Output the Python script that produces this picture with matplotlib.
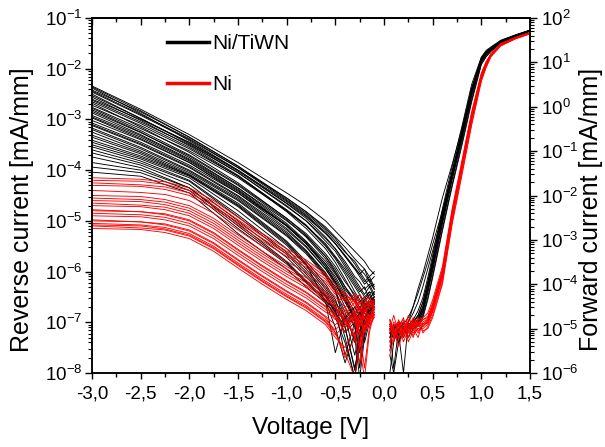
import numpy as np
import matplotlib
matplotlib.use("Agg")
import matplotlib.pyplot as plt
from matplotlib.ticker import MultipleLocator, FuncFormatter, LogLocator, LogFormatterMathtext, NullFormatter
from matplotlib.lines import Line2D

plt.rcParams['font.family'] = ['Liberation Sans', 'DejaVu Sans']
plt.rcParams['mathtext.fontset'] = 'custom'
plt.rcParams['mathtext.rm'] = 'Liberation Sans'
plt.rcParams['mathtext.it'] = 'Liberation Sans:italic'
plt.rcParams['axes.unicode_minus'] = False

# ---------------- data (log10 of current, mA/mm) ----------------
V_rev = [-3.0, -2.5, -2.0, -1.5, -1.0, -0.8, -0.6, -0.5, -0.4, -0.3, -0.25, -0.2, -0.15, -0.1]

rev_black = [
    [-2.34, -2.80, -3.30, -3.85, -4.45, -4.70, -5.00, -5.20, -5.40, -5.60, -5.70, -5.80, -5.95, -6.05],
    [-2.36, -2.83, -3.35, -3.92, -4.55, -4.82, -5.12, -5.32, -5.52, -5.75, -5.85, -5.95, -6.10, -6.00],
    [-2.38, -2.88, -3.42, -4.00, -4.65, -4.92, -5.25, -5.45, -5.70, -5.95, -6.05, -6.20, -6.10, -6.30],
    [-2.42, -2.85, -3.35, -3.92, -4.58, -4.85, -5.18, -5.40, -5.62, -5.80, -5.95, -6.05, -6.20, -6.10],
    [-2.44, -2.90, -3.38, -3.95, -4.60, -4.88, -5.22, -5.45, -5.68, -5.92, -6.05, -5.95, -6.20, -6.35],
    [-2.46, -2.92, -3.40, -3.95, -4.55, -4.82, -5.15, -5.35, -5.60, -5.85, -6.00, -6.15, -6.30, -6.25],
    [-2.50, -2.98, -3.48, -4.05, -4.72, -5.00, -5.35, -5.55, -5.80, -6.10, -6.20, -6.35, -6.25, -6.45],
    [-2.53, -2.98, -3.46, -4.02, -4.66, -4.95, -5.32, -5.55, -5.85, -6.15, -6.30, -6.45, -6.30, -6.50],
    [-2.56, -3.02, -3.52, -4.10, -4.80, -5.10, -5.45, -5.70, -5.95, -6.25, -6.40, -6.30, -6.55, -6.40],
    [-2.60, -3.00, -3.45, -4.00, -4.62, -4.90, -5.25, -5.45, -5.70, -5.95, -6.10, -6.25, -6.15, -6.35],
    [-2.62, -3.05, -3.50, -4.05, -4.70, -5.00, -5.40, -5.60, -5.90, -6.20, -6.35, -6.50, -6.40, -6.60],
    [-2.65, -3.08, -3.55, -4.12, -4.82, -5.15, -5.55, -5.82, -6.15, -6.50, -6.75, -6.55, -6.40, -6.45],
    [-2.68, -3.15, -3.65, -4.25, -4.95, -5.25, -5.65, -5.90, -6.20, -6.45, -6.60, -6.50, -6.70, -6.55],
    [-2.72, -3.12, -3.58, -4.12, -4.78, -5.08, -5.48, -5.72, -6.00, -6.30, -6.45, -6.60, -6.45, -6.65],
    [-2.76, -3.18, -3.62, -4.15, -4.80, -5.10, -5.50, -5.75, -6.05, -6.40, -6.55, -6.75, -6.60, -6.50],
    [-2.78, -3.22, -3.70, -4.28, -4.95, -5.28, -5.70, -6.00, -6.40, -7.00, -7.90, -7.20, -6.85, -6.70],
    [-2.81, -3.25, -3.75, -4.35, -5.05, -5.40, -5.80, -6.05, -6.35, -6.60, -6.80, -6.65, -6.90, -6.70],
    [-2.84, -3.26, -3.72, -4.30, -4.98, -5.32, -5.75, -6.02, -6.30, -6.60, -6.45, -6.70, -6.55, -6.40],
    [-2.87, -3.30, -3.78, -4.35, -5.00, -5.30, -5.70, -5.95, -6.30, -6.55, -6.70, -6.60, -6.85, -6.60],
    [-2.92, -3.32, -3.80, -4.38, -5.08, -5.42, -5.85, -6.15, -6.50, -7.00, -7.60, -7.10, -6.80, -6.65],
    [-2.95, -3.35, -3.82, -4.40, -5.10, -5.45, -5.90, -6.20, -6.55, -6.95, -7.30, -6.95, -6.75, -6.60],
    [-2.97, -3.38, -3.85, -4.45, -5.15, -5.50, -5.95, -6.25, -6.60, -6.90, -7.20, -7.00, -6.80, -6.75],
    [-3.02, -3.40, -3.85, -4.42, -5.10, -5.45, -5.90, -6.20, -6.55, -6.85, -6.70, -6.95, -6.75, -6.60],
    [-3.07, -3.45, -3.90, -4.45, -5.10, -5.45, -5.85, -6.10, -6.45, -6.80, -7.00, -7.40, -7.00, -6.70],
    [-3.10, -3.48, -3.93, -4.50, -5.18, -5.52, -5.95, -6.22, -6.60, -6.95, -6.80, -7.05, -6.85, -6.70],
    [-3.12, -3.50, -3.95, -4.52, -5.22, -5.58, -6.02, -6.35, -7.10, -7.95, -7.30, -6.95, -6.75, -6.60],
    [-3.17, -3.55, -4.00, -4.55, -5.25, -5.60, -6.05, -6.30, -6.70, -7.10, -7.60, -7.20, -6.90, -6.60],
    [-3.20, -3.58, -4.02, -4.58, -5.28, -5.62, -6.08, -6.38, -6.80, -7.40, -7.00, -6.80, -6.70, -6.55],
    [-3.25, -3.62, -4.05, -4.60, -5.30, -5.65, -6.10, -6.40, -6.90, -7.65, -7.20, -6.90, -6.80, -6.55],
    [-3.31, -3.65, -4.08, -4.65, -5.40, -5.80, -6.25, -6.55, -7.10, -7.90, -7.40, -7.00, -6.85, -6.60],
    [-3.35, -3.68, -4.10, -4.68, -5.42, -5.85, -6.60, -7.60, -6.90, -6.70, -6.85, -6.65, -6.80, -6.55],
    [-3.41, -3.72, -4.10, -4.70, -5.45, -5.85, -6.30, -6.60, -6.90, -7.30, -8.10, -7.30, -6.90, -6.70],
    [-3.45, -3.75, -4.12, -4.72, -5.48, -5.88, -6.35, -6.65, -7.30, -8.10, -7.30, -6.95, -6.80, -6.65],
    [-3.50, -3.78, -4.15, -4.80, -5.55, -5.95, -6.40, -6.70, -7.00, -6.80, -6.95, -6.70, -6.85, -6.60],
    [-3.54, -3.82, -4.20, -4.88, -5.62, -6.00, -6.45, -6.75, -7.65, -7.00, -6.85, -6.70, -6.60, -6.55],
    [-3.60, -3.86, -4.22, -4.92, -5.66, -6.05, -6.48, -6.80, -7.10, -6.90, -7.05, -6.80, -6.70, -6.60],
    [-3.66, -3.90, -4.28, -5.00, -5.72, -6.10, -6.50, -6.82, -7.20, -7.00, -6.80, -6.90, -6.65, -6.50],
    [-3.74, -3.95, -4.35, -5.05, -5.80, -6.18, -6.55, -6.90, -7.40, -8.10, -7.40, -6.90, -6.70, -6.60],
    [-3.85, -4.00, -4.35, -5.10, -5.82, -6.20, -6.60, -7.10, -7.80, -7.20, -6.90, -6.75, -6.85, -6.60],
    [-3.94, -4.05, -4.40, -5.15, -5.85, -6.22, -6.58, -6.75, -6.95, -6.70, -6.90, -6.60, -6.75, -6.55],
    [-4.04, -4.12, -4.45, -5.25, -5.95, -6.30, -6.62, -6.85, -7.05, -6.80, -7.20, -6.70, -6.85, -6.60],
]

V_rev_red = [-3.0, -2.5, -2.25, -2.0, -1.75, -1.5, -1.25, -1.0, -0.8, -0.6, -0.5, -0.4, -0.3, -0.25, -0.2, -0.15, -0.1]

rev_red = [
    [-4.15, -4.18, -4.23, -4.35, -4.60, -4.93, -5.25, -5.55, -5.77, -6.05, -6.25, -6.45, -6.60, -6.45, -6.70, -6.55, -6.60],
    [-4.20, -4.22, -4.28, -4.40, -4.65, -4.98, -5.30, -5.60, -5.82, -6.10, -6.35, -6.60, -6.50, -6.75, -6.60, -6.50, -6.70],
    [-4.25, -4.29, -4.33, -4.45, -4.70, -5.03, -5.35, -5.65, -5.87, -6.15, -6.40, -6.55, -6.45, -6.65, -6.50, -6.75, -6.60],
    [-4.30, -4.32, -4.38, -4.50, -4.75, -5.08, -5.40, -5.70, -5.92, -6.20, -6.45, -6.40, -6.70, -6.60, -6.80, -6.65, -6.55],
    [-4.40, -4.44, -4.48, -4.60, -4.85, -5.18, -5.50, -5.80, -6.02, -6.30, -6.50, -6.70, -6.55, -6.80, -6.65, -7.00, -6.60],
    [-4.50, -4.52, -4.58, -4.70, -4.95, -5.28, -5.60, -5.90, -6.12, -6.40, -6.60, -6.50, -6.85, -6.70, -6.95, -6.60, -6.70],
    [-4.55, -4.58, -4.63, -4.75, -5.00, -5.33, -5.65, -5.95, -6.17, -6.45, -6.65, -6.85, -6.60, -6.90, -6.70, -6.60, -6.75],
    [-4.60, -4.62, -4.68, -4.80, -5.05, -5.38, -5.70, -6.00, -6.22, -6.50, -6.72, -7.00, -6.75, -7.10, -6.80, -6.70, -6.65],
    [-4.65, -4.69, -4.73, -4.85, -5.10, -5.43, -5.75, -6.05, -6.27, -6.55, -6.70, -6.95, -7.30, -7.80, -7.10, -6.80, -6.75],
    [-4.70, -4.72, -4.78, -4.90, -5.15, -5.48, -5.80, -6.10, -6.32, -6.60, -6.82, -6.70, -7.00, -6.85, -7.20, -6.90, -6.70],
    [-4.78, -4.82, -4.86, -4.98, -5.23, -5.56, -5.88, -6.18, -6.40, -6.68, -6.90, -7.20, -6.90, -7.50, -8.10, -7.20, -6.80],
    [-4.80, -4.82, -4.88, -5.00, -5.25, -5.58, -5.90, -6.20, -6.42, -6.70, -6.85, -7.10, -6.80, -7.00, -6.75, -6.90, -6.70],
    [-4.85, -4.88, -4.93, -5.05, -5.30, -5.63, -5.95, -6.25, -6.47, -6.75, -6.95, -6.75, -7.05, -6.90, -7.15, -6.95, -6.75],
    [-4.90, -4.92, -4.98, -5.10, -5.35, -5.68, -6.00, -6.30, -6.52, -6.80, -6.90, -7.10, -6.85, -7.25, -7.00, -6.85, -6.90],
    [-4.98, -5.02, -5.06, -5.18, -5.43, -5.76, -6.08, -6.38, -6.60, -6.88, -7.05, -6.85, -7.30, -7.00, -6.80, -7.05, -6.85],
    [-5.00, -5.02, -5.08, -5.20, -5.45, -5.78, -6.10, -6.40, -6.62, -6.90, -7.20, -7.60, -8.10, -7.40, -7.00, -6.90, -6.80],
    [-5.05, -5.08, -5.13, -5.25, -5.50, -5.83, -6.15, -6.45, -6.67, -6.95, -7.15, -6.95, -7.25, -7.50, -7.10, -6.95, -6.85],
    [-5.08, -5.10, -5.16, -5.28, -5.53, -5.86, -6.18, -6.48, -6.70, -6.98, -7.20, -7.70, -7.30, -7.05, -6.90, -7.10, -6.85],
    [-5.10, -5.14, -5.18, -5.30, -5.55, -5.88, -6.20, -6.50, -6.72, -7.00, -7.25, -7.05, -6.90, -7.20, -7.90, -7.10, -6.90],
    [-5.15, -5.17, -5.23, -5.35, -5.60, -5.93, -6.25, -6.55, -6.77, -7.05, -7.30, -7.50, -7.10, -6.95, -7.20, -7.00, -6.80],
]

V_fwd = [0.06, 0.1, 0.15, 0.2, 0.25, 0.3, 0.35, 0.4, 0.45, 0.5, 0.6, 0.7, 0.8, 0.9, 1.0, 1.05, 1.1, 1.2, 1.35, 1.5]

fwd_black = [
    [-4.90, -5.20, -5.00, -4.90, -4.95, -4.80, -4.60, -4.30, -3.85, -3.35, -2.30, -1.35, -0.45, 0.50, 1.12, 1.27, 1.35, 1.50, 1.62, 1.73],
    [-5.10, -5.00, -5.15, -5.00, -4.90, -4.85, -4.70, -4.40, -3.95, -3.45, -2.40, -1.45, -0.55, 0.40, 1.08, 1.23, 1.32, 1.48, 1.61, 1.72],
    [-5.30, -5.00, -4.90, -5.10, -5.00, -4.95, -4.80, -4.50, -4.05, -3.55, -2.50, -1.52, -0.62, 0.35, 1.06, 1.22, 1.31, 1.47, 1.60, 1.72],
    [-4.80, -5.10, -5.20, -4.95, -5.05, -4.90, -4.85, -4.60, -4.15, -3.65, -2.60, -1.60, -0.70, 0.28, 1.03, 1.19, 1.29, 1.46, 1.60, 1.71],
    [-5.00, -5.90, -5.00, -5.20, -4.95, -5.00, -4.90, -4.65, -4.20, -3.70, -2.65, -1.65, -0.75, 0.22, 1.00, 1.17, 1.28, 1.45, 1.59, 1.71],
    [-5.50, -5.00, -4.85, -5.00, -5.10, -4.95, -4.90, -4.70, -4.30, -3.80, -2.75, -1.75, -0.82, 0.15, 0.97, 1.14, 1.26, 1.44, 1.58, 1.70],
    [-5.10, -5.20, -5.05, -4.85, -5.00, -4.80, -4.75, -4.50, -4.00, -3.50, -2.45, -1.50, -0.60, 0.36, 1.07, 1.22, 1.31, 1.48, 1.61, 1.72],
    [-4.95, -5.05, -5.30, -5.10, -4.90, -4.85, -4.80, -4.55, -4.10, -3.58, -2.52, -1.55, -0.65, 0.32, 1.05, 1.21, 1.30, 1.47, 1.60, 1.72],
    [-6.00, -5.30, -5.00, -4.95, -5.00, -4.90, -4.82, -4.60, -4.12, -3.62, -2.58, -1.60, -0.68, 0.29, 1.04, 1.20, 1.30, 1.46, 1.60, 1.71],
    [-5.20, -4.90, -5.10, -5.00, -5.20, -5.00, -4.95, -4.75, -4.35, -3.85, -2.80, -1.80, -0.88, 0.10, 0.95, 1.13, 1.25, 1.43, 1.58, 1.70],
    [-5.00, -5.10, -4.90, -4.95, -4.85, -4.50, -4.10, -3.75, -3.35, -2.95, -2.05, -1.30, -0.50, 0.42, 1.10, 1.25, 1.33, 1.48, 1.61, 1.72],
    [-5.20, -5.00, -4.85, -4.90, -4.75, -4.50, -4.20, -3.85, -3.50, -3.10, -2.35, -1.48, -0.60, 0.38, 1.08, 1.23, 1.32, 1.48, 1.61, 1.72],
    [-4.90, -5.05, -5.10, -6.00, -4.85, -4.65, -4.40, -4.05, -3.65, -3.25, -2.45, -1.50, -0.62, 0.36, 1.07, 1.22, 1.31, 1.47, 1.60, 1.72],
    [-5.60, -6.00, -5.30, -5.00, -4.90, -4.85, -4.70, -4.40, -3.95, -3.45, -2.42, -1.48, -0.58, 0.38, 1.08, 1.23, 1.32, 1.48, 1.61, 1.72],
]

fwd_red = [
    [-4.90, -5.20, -4.80, -5.10, -4.70, -5.00, -4.80, -4.75, -4.65, -4.35, -3.60, -2.30, -1.22, -0.12, 0.76, 1.02, 1.20, 1.42, 1.56, 1.67],
    [-5.10, -4.85, -5.00, -4.75, -5.20, -4.85, -4.90, -4.80, -4.75, -4.45, -3.70, -2.38, -1.30, -0.18, 0.72, 0.99, 1.19, 1.41, 1.55, 1.66],
    [-5.30, -5.00, -5.25, -4.90, -4.95, -5.20, -4.85, -4.90, -4.80, -4.50, -3.75, -2.42, -1.33, -0.22, 0.70, 0.98, 1.18, 1.40, 1.55, 1.66],
    [-4.80, -5.10, -4.90, -5.30, -5.00, -4.80, -5.05, -4.95, -4.85, -4.58, -3.82, -2.48, -1.38, -0.27, 0.66, 0.95, 1.17, 1.40, 1.54, 1.66],
    [-5.00, -4.70, -5.10, -5.00, -4.85, -5.10, -5.00, -5.00, -4.90, -4.62, -3.88, -2.52, -1.42, -0.30, 0.63, 0.93, 1.16, 1.39, 1.54, 1.65],
    [-5.20, -5.30, -4.90, -4.80, -5.10, -4.95, -4.75, -5.10, -4.95, -4.70, -3.95, -2.60, -1.50, -0.38, 0.60, 0.90, 1.14, 1.38, 1.53, 1.65],
    [-4.95, -5.05, -5.40, -5.05, -4.90, -5.00, -5.20, -4.85, -4.78, -4.50, -3.72, -2.40, -1.32, -0.20, 0.71, 0.98, 1.18, 1.41, 1.55, 1.66],
    [-5.40, -4.90, -5.00, -5.15, -4.80, -4.90, -4.95, -4.90, -4.88, -4.60, -3.85, -2.50, -1.40, -0.28, 0.65, 0.95, 1.17, 1.40, 1.54, 1.66],
    [-5.05, -5.15, -4.95, -4.85, -5.30, -5.05, -4.90, -5.05, -5.00, -4.75, -4.00, -2.65, -1.55, -0.42, 0.57, 0.89, 1.13, 1.37, 1.53, 1.64],
    [-4.85, -5.00, -5.20, -5.00, -5.00, -4.75, -4.95, -4.80, -4.72, -4.42, -3.66, -2.35, -1.26, -0.15, 0.74, 1.00, 1.19, 1.42, 1.56, 1.67],
    [-5.60, -5.20, -5.05, -4.90, -5.05, -5.15, -5.00, -4.95, -4.83, -4.55, -3.78, -2.44, -1.35, -0.24, 0.69, 0.97, 1.18, 1.40, 1.55, 1.66],
    [-5.00, -4.95, -4.85, -5.20, -4.95, -4.90, -5.10, -4.90, -4.80, -4.52, -3.76, -2.43, -1.34, -0.23, 0.69, 0.97, 1.18, 1.40, 1.55, 1.66],
]

x_ticks = [-3.0, -2.5, -2.0, -1.5, -1.0, -0.5, 0.0, 0.5, 1.0, 1.5]
legend_labels = ['Ni/TiWN', 'Ni']
colors = ['#000000', '#ff0000']

# ---------------- figure ----------------
W, H = 605, 447
fig = plt.figure(figsize=(W / 100, H / 100), dpi=100)
L, R, T, B = 92, 530, 18, 373
ax = fig.add_axes([L / W, 1 - B / H, (R - L) / W, (B - T) / H])
ax2 = ax.twinx()

lw = 0.65
for row in rev_black:
    ax.plot(V_rev, 10 ** np.array(row), color=colors[0], lw=lw)
for row in rev_red:
    ax.plot(V_rev_red, 10 ** np.array(row), color=colors[1], lw=lw)
for row in fwd_black:
    ax2.plot(V_fwd, 10 ** np.array(row), color=colors[0], lw=lw)
for row in fwd_red:
    ax2.plot(V_fwd, 10 ** np.array(row), color=colors[1], lw=lw)

ax.set_xlim(-3.0, 1.5)
ax.set_yscale('log')
ax.set_ylim(1e-8, 1e-1)
ax2.set_yscale('log')
ax2.set_ylim(1e-6, 1e2)

def fmt_x(v, p):
    if abs(v) < 1e-9:
        v = 0.0
    return f'{v:.1f}'.replace('.', ',')

ax.set_xticks(x_ticks)
ax.xaxis.set_major_formatter(FuncFormatter(fmt_x))
ax.xaxis.set_minor_locator(MultipleLocator(0.25))

for a in (ax, ax2):
    a.yaxis.set_major_locator(LogLocator(base=10, numticks=20))
    a.yaxis.set_minor_locator(LogLocator(base=10, subs=np.arange(2, 10), numticks=20))
    a.yaxis.set_minor_formatter(NullFormatter())
    a.yaxis.set_major_formatter(LogFormatterMathtext())
    for s in a.spines.values():
        s.set_linewidth(1.1)

ax.tick_params(axis='x', which='major', direction='out', length=4, width=1.0, labelsize=13.5, pad=5)
ax.tick_params(axis='x', which='minor', direction='out', length=3, width=1.0)
ax.tick_params(axis='y', which='major', direction='out', length=5, width=1.0, labelsize=13.5, pad=2)
ax.tick_params(axis='y', which='minor', direction='out', length=3, width=0.8)
ax2.tick_params(axis='y', which='major', direction='out', length=5, width=1.0, labelsize=13.5, pad=3)
ax2.tick_params(axis='y', which='minor', direction='out', length=3, width=0.8)

top = ax.secondary_xaxis('top')
top.set_xticks(x_ticks)
top.xaxis.set_minor_locator(MultipleLocator(0.25))
top.tick_params(axis='x', which='major', direction='in', length=5, width=1.0, labeltop=False)
top.tick_params(axis='x', which='minor', direction='in', length=3, width=1.0)
top.spines['top'].set_linewidth(1.1)

ax.set_xlabel('Voltage [V]', fontsize=17.5)
ax.xaxis.set_label_coords(0.5, -0.125)
ax.set_ylabel('Reverse current [mA/mm]', fontsize=18)
ax.yaxis.set_label_coords(-0.132, 0.46)
ax2.set_ylabel('Forward current [mA/mm]', fontsize=18)
ax2.yaxis.set_label_coords(1.112, 0.46)

handles = [Line2D([], [], color=c, lw=2.5) for c in colors]
ax.legend(handles, legend_labels, loc='upper left', bbox_to_anchor=(167 / W, 1 - 34 / H),
          bbox_transform=fig.transFigure, frameon=False, fontsize=15, borderpad=0,
          handlelength=2.0, handletextpad=0.15, labelspacing=1.05, borderaxespad=0)

fig.savefig('out.png', dpi=100)
